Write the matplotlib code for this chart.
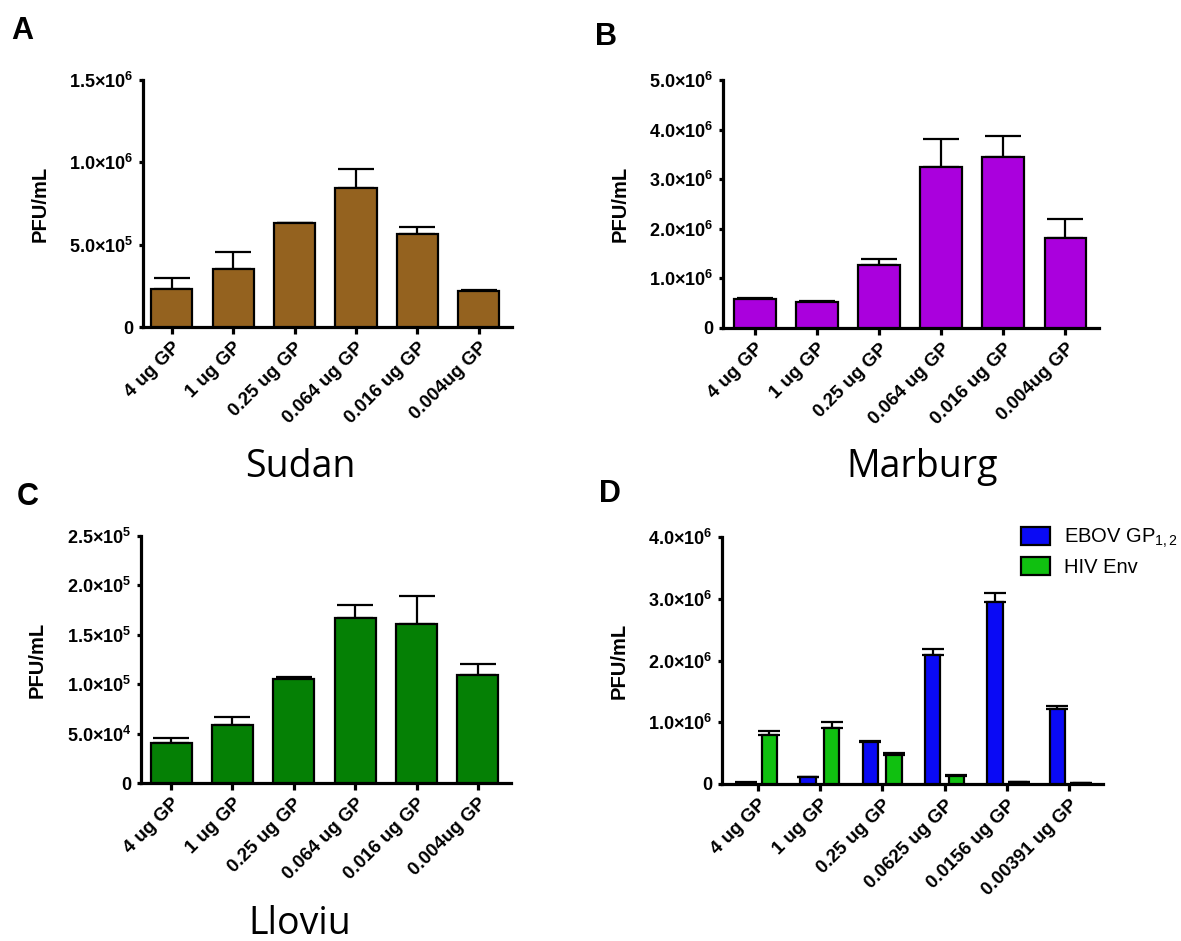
import numpy as np
import matplotlib
matplotlib.use("Agg")
import matplotlib.pyplot as plt

W, H = 1181, 941

# ── data ──────────────────────────────────────────────────────────────────
doses_ab = ["4 ug GP", "1 ug GP", "0.25 ug GP", "0.064 ug GP", "0.016 ug GP", "0.004ug GP"]
doses_d = ["4 ug GP", "1 ug GP", "0.25 ug GP", "0.0625 ug GP", "0.0156 ug GP", "0.00391 ug GP"]

sudan_mean = [2.30e5, 3.50e5, 6.30e5, 8.46e5, 5.63e5, 2.19e5]
sudan_err = [0.70e5, 1.04e5, 0.04e5, 1.14e5, 0.47e5, 0.06e5]

marburg_mean = [0.58e6, 0.53e6, 1.27e6, 3.25e6, 3.45e6, 1.82e6]
marburg_err = [0.02e6, 0.02e6, 0.13e6, 0.57e6, 0.42e6, 0.37e6]

lloviu_mean = [4.0e4, 5.9e4, 1.05e5, 1.675e5, 1.61e5, 1.092e5]
lloviu_err = [0.6e4, 0.77e4, 0.2e4, 1.25e4, 2.84e4, 1.14e4]

ebov_mean = [0.02e6, 0.11e6, 0.675e6, 2.09e6, 2.95e6, 1.21e6]
ebov_err = [0.005e6, 0.01e6, 0.025e6, 0.09e6, 0.14e6, 0.05e6]
hiv_mean = [0.79e6, 0.90e6, 0.47e6, 0.13e6, 0.03e6, 0.02e6]
hiv_err = [0.07e6, 0.10e6, 0.03e6, 0.01e6, 0.005e6, 0.003e6]

yt_a = [0, 5e5, 1e6, 1.5e6]
yl_a = ["0", r"5.0×10$^{\mathbf{5}}$", r"1.0×10$^{\mathbf{6}}$", r"1.5×10$^{\mathbf{6}}$"]
yt_b = [0, 1e6, 2e6, 3e6, 4e6, 5e6]
yl_b = ["0"] + [rf"{v}.0×10$^{{\mathbf{{6}}}}$" for v in range(1, 6)]
yt_c = [0, 5e4, 1e5, 1.5e5, 2e5, 2.5e5]
yl_c = ["0", r"5.0×10$^{\mathbf{4}}$", r"1.0×10$^{\mathbf{5}}$", r"1.5×10$^{\mathbf{5}}$",
        r"2.0×10$^{\mathbf{5}}$", r"2.5×10$^{\mathbf{5}}$"]
yt_d = [0, 1e6, 2e6, 3e6, 4e6]
yl_d = ["0"] + [rf"{v}.0×10$^{{\mathbf{{6}}}}$" for v in range(1, 5)]

plt.rcParams["font.family"] = ["Liberation Sans", "DejaVu Sans"]
plt.rcParams["mathtext.fontset"] = "custom"
plt.rcParams["mathtext.rm"] = "Liberation Sans"
plt.rcParams["mathtext.it"] = "Liberation Sans:italic"
plt.rcParams["mathtext.bf"] = "Liberation Sans:bold"

fig = plt.figure(figsize=(W / 100, H / 100), dpi=100)


def px_axes(left, top, right, bottom):
    return fig.add_axes([left / W, 1 - bottom / H, (right - left) / W, (bottom - top) / H])


def style(ax, labels, yticks, ylabels, ymax, xlim):
    ax.set_xlim(*xlim)
    ax.set_ylim(0, ymax)
    for s in ("top", "right"):
        ax.spines[s].set_visible(False)
    for s in ("left", "bottom"):
        ax.spines[s].set_linewidth(2.3)
    ax.set_xticks(np.arange(len(labels)))
    ax.set_xticklabels(labels, rotation=45, ha="right", va="top",
                       rotation_mode="anchor", fontsize=13.5, fontweight="bold")
    ax.tick_params(axis="x", length=5, width=2.3, pad=4)
    ax.set_yticks(yticks)
    ax.set_yticklabels(ylabels, fontsize=13, fontweight="bold")
    ax.tick_params(axis="y", length=3, width=2.3, pad=4)
    ax.set_ylabel("PFU/mL", fontsize=14.5, fontweight="bold", labelpad=14)


def single(ax, means, errs, color, capsize):
    x = np.arange(len(means))
    ax.bar(x, means, 0.67, color=color, edgecolor="black", linewidth=1.6, zorder=3)
    ax.errorbar(x, means, yerr=[np.zeros(len(errs)), errs], fmt="none",
                ecolor="black", elinewidth=1.6, capsize=capsize, capthick=1.6, zorder=2)


# A: Sudan
axA = px_axes(143, 80, 512, 327)
single(axA, sudan_mean, sudan_err, "#94621f", 13)
style(axA, doses_ab, yt_a, yl_a, 1.5e6, (-0.47, 5.54))

# B: Marburg
axB = px_axes(723, 80, 1099, 328)
single(axB, marburg_mean, marburg_err, "#aa00dd", 13)
style(axB, doses_ab, yt_b, yl_b, 5e6, (-0.51, 5.54))

# C: Lloviu
axC = px_axes(141, 536, 511, 783)
single(axC, lloviu_mean, lloviu_err, "#058005", 13)
style(axC, doses_ab, yt_c, yl_c, 2.5e5, (-0.49, 5.54))

# D: EBOV vs HIV
axD = px_axes(722, 537, 1103, 784)
x = np.arange(len(ebov_mean))
off, bw = 0.19, 0.245
axD.bar(x - off, ebov_mean, bw, color="#0a0af5", edgecolor="black", linewidth=1.6,
        zorder=3, label="EBOV GP$_{1,2}$")
axD.bar(x + off, hiv_mean, bw, color="#10c010", edgecolor="black", linewidth=1.6,
        zorder=3, label="HIV Env")
axD.errorbar(x - off, ebov_mean, yerr=[np.zeros(6), ebov_err], fmt="none",
             ecolor="black", elinewidth=1.6, capsize=8, capthick=1.6, zorder=2)
axD.errorbar(x + off, hiv_mean, yerr=[np.zeros(6), hiv_err], fmt="none",
             ecolor="black", elinewidth=1.6, capsize=8, capthick=1.6, zorder=2)
style(axD, doses_d, yt_d, yl_d, 4e6, (-0.57, 5.54))
axD.legend(loc="upper left", bbox_to_anchor=(1021 / W, 1 - 527 / H),
           bbox_transform=fig.transFigure, frameon=False, fontsize=14.5,
           handlelength=1.45, handleheight=0.95, handletextpad=0.7,
           labelspacing=0.35, borderaxespad=0, borderpad=0)

# panel letters
for lbl, px, py in [("A", 11, 16), ("B", 595, 22), ("C", 17, 482), ("D", 599, 479)]:
    fig.text(px / W, 1 - py / H, lbl, fontsize=22, fontweight="bold", ha="left", va="top")

# virus names
for name, cx, by in [("Sudan", 300, 477), ("Marburg", 922, 477), ("Lloviu", 300, 934)]:
    fig.text(cx / W, 1 - by / H, name, fontsize=27, family=["Open Sans", "DejaVu Sans"],
             ha="center", va="baseline")

fig.savefig("out.png", dpi=100)
